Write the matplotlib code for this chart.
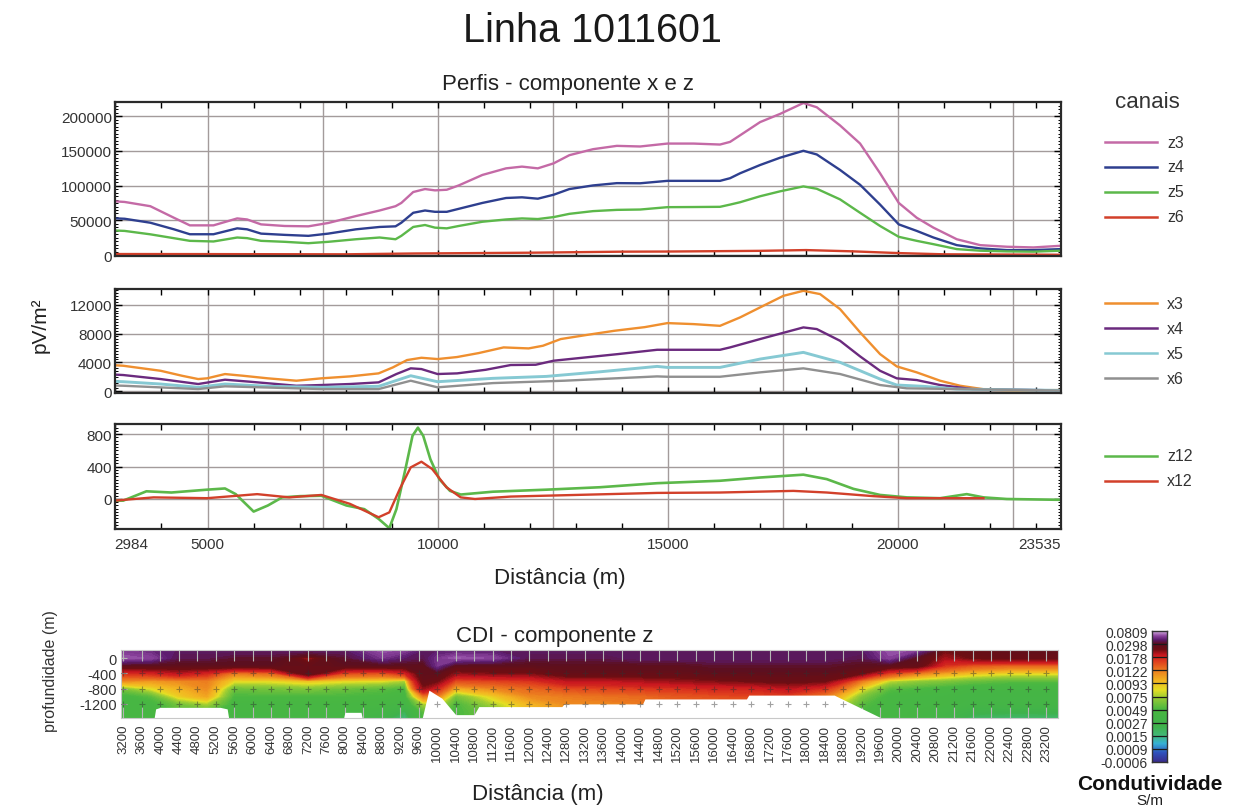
import numpy as np
import matplotlib
matplotlib.use('Agg')
import matplotlib.pyplot as plt
from matplotlib.colors import LinearSegmentedColormap
from matplotlib.lines import Line2D
from matplotlib.ticker import MultipleLocator, FixedLocator

plt.rcParams['font.family'] = ['Liberation Sans', 'DejaVu Sans']

# ---------------- perfis - componente z (pV/m2) ----------------
x_z = [2984, 3200, 3757, 4272, 4616, 5130, 5645, 5860, 6164, 6677, 7192, 7622, 8225, 8739,
       9085, 9211, 9469, 9725, 9942, 10198, 10457, 10972, 11485, 11832, 12176, 12519, 12862,
       13375, 13892, 14399, 14992, 15557, 16134, 16352, 16570, 17004, 17438, 17945, 18236,
       18742, 19177, 19611, 20017, 20408, 20770, 21278, 21786, 22365, 22944, 23535]
z3 = [77500, 76600, 70500, 53800, 42900, 42900, 52900, 51400, 44300, 42000, 41500, 46300,
      56300, 64300, 70500, 75200, 90900, 95200, 93300, 94200, 100400, 115500, 125000, 127500,
      125000, 132200, 144000, 152600, 157400, 156500, 160700, 160700, 159300, 163100, 172600,
      191600, 203400, 219100, 213000, 186800, 160700, 117900, 75200, 53800, 39600, 22900,
      14400, 12100, 11100, 13500]
z4 = [53000, 52400, 46700, 37200, 30100, 30100, 38600, 37200, 31000, 29200, 27800, 31000,
      37200, 40600, 41500, 46700, 61000, 64300, 62400, 62400, 66700, 75200, 82300, 83300,
      81300, 87000, 95200, 100400, 103700, 103500, 107000, 107000, 107000, 110800, 117900,
      129800, 140300, 150300, 145000, 122700, 101300, 72800, 44300, 34900, 25400, 14400,
      9700, 7300, 7300, 8700]
z5 = [35500, 34900, 30000, 24400, 20600, 19700, 25400, 24500, 20600, 19200, 17200, 19200,
      22900, 25400, 22900, 27800, 40600, 43400, 39600, 38600, 42000, 48100, 51400, 52900,
      52000, 54800, 59500, 63400, 65200, 65700, 69100, 69300, 69600, 72800, 76200, 84800,
      91900, 99000, 95600, 80300, 61000, 42000, 26400, 20600, 15800, 8700, 6400, 5400,
      5000, 6400]
x_z6 = [2984, 5000, 8000, 9500, 10000, 12000, 14000, 15000, 17000, 18000, 19000, 20000, 21000, 23535]
z6 = [1600, 1500, 1200, 2400, 2600, 3500, 5000, 5200, 6200, 7300, 5500, 3000, 1200, 600]

# ---------------- perfis - componente x (pV/m2) ----------------
x_x3 = [2984, 3169, 3983, 4445, 4798, 4990, 5380, 5769, 6312, 6931, 7474, 8095, 8717, 9027,
        9334, 9647, 9997, 10420, 10890, 11433, 11976, 12287, 12673, 13216, 13837, 14500,
        14992, 15557, 16134, 16570, 17004, 17511, 17945, 18308, 18742, 19177, 19611, 19973,
        20408, 20915, 21350, 21930, 22600, 23535]
x3 = [3600, 3530, 2830, 2140, 1680, 1780, 2375, 2140, 1780, 1450, 1780, 2050, 2470, 3300,
      4320, 4640, 4460, 4740, 5290, 6080, 5940, 6310, 7240, 7790, 8390, 8900, 9460, 9320,
      9080, 10250, 11640, 13250, 13950, 13490, 11400, 8170, 5150, 3440, 2610, 1450, 750,
      200, 100, 150]
x_x4 = [2984, 3169, 3983, 4798, 5380, 5923, 6931, 7474, 8095, 8717, 9104, 9415, 9647, 9997,
        10423, 11044, 11587, 12130, 12519, 13216, 13916, 14768, 14992, 16134, 16352, 17004,
        17945, 18236, 18742, 19177, 19611, 19973, 20408, 20915, 21610, 23535]
x4 = [2300, 2240, 1680, 990, 1590, 1310, 750, 850, 990, 1220, 2380, 3170, 3070, 2380, 2470,
      2970, 3630, 3670, 4230, 4690, 5150, 5750, 5750, 5750, 6080, 7240, 8860, 8630, 7000,
      4830, 2830, 1780, 1540, 850, 290, 100]
x_x5 = [2984, 3169, 3983, 4798, 5380, 6312, 7474, 8717, 9415, 9997, 11200, 12363, 13527,
        14768, 14992, 16134, 17004, 17945, 18742, 19611, 19973, 20550, 21278, 23535]
x5 = [1350, 1310, 990, 530, 990, 670, 530, 670, 2140, 1310, 1780, 2050, 2690, 3440, 3300,
      3300, 4460, 5390, 4000, 1680, 850, 670, 290, 100]
x_x6 = [2984, 3169, 4798, 5380, 7474, 8717, 9415, 9997, 11200, 12752, 14768, 14992, 16134,
        17004, 17945, 18742, 19611, 20190, 23535]
x6 = [780, 750, 290, 670, 290, 290, 1450, 530, 1120, 1450, 2050, 2000, 2000, 2610, 3170,
      2380, 850, 390, 80]

# ---------------- canais 12 ----------------
x_z12 = [2984, 3169, 3673, 4216, 4991, 5380, 5613, 6002, 6312, 6621, 7010, 7474, 8018, 8406,
         8717, 8950, 9104, 9300, 9454, 9571, 9686, 9842, 10036, 10268, 10501, 11200, 12363,
         13527, 14768, 16134, 17004, 17945, 18453, 19033, 19611, 20190, 20915, 21494, 21857,
         22365, 23535]
z12 = [-20, -20, 95, 80, 115, 130, 60, -155, -80, 20, 35, 40, -80, -125, -245, -360, -125,
       370, 780, 880, 780, 490, 245, 100, 55, 90, 115, 145, 195, 225, 265, 300, 245, 125, 50,
       20, 10, 60, 20, 0, -10]
x_x12 = [2984, 3829, 4991, 6079, 6777, 7474, 8095, 8717, 8950, 9182, 9415, 9647, 9880, 10190,
         10501, 10811, 11587, 14768, 16134, 17728, 18453, 19466, 20190, 21857]
x12 = [-20, 20, 10, 60, 20, 50, -60, -225, -165, 130, 390, 460, 370, 145, 20, 0, 30, 75, 80,
       100, 80, 35, 10, 10]

x_tick_vals = [2984, 5000, 10000, 15000, 20000, 23535]

# ---------------- CDI - componente z (S/m) ----------------
cdi_x = [3150, 3800, 4400, 5000, 5600, 6400, 7200, 8000, 8800, 9300, 9700, 10000, 10400,
         11200, 12000, 12800, 13600, 14400, 15200, 16000, 16800, 17600, 18400, 19200, 19800,
         20400, 21000, 21600, 22400, 23450]
cdi_depth = [220, 0, -200, -400, -600, -800, -1000, -1200, -1400, -1580]
cdi_cond = [
    [0.0554, 0.0656, 0.0286, 0.0167, 0.0116, 0.0062, 0.0044, 0.0044, 0.0042, 0.0042],
    [0.0502, 0.0605, 0.0286, 0.0178, 0.0110, 0.0084, 0.0054, 0.0044, 0.0044, 0.0044],
    [0.0451, 0.0400, 0.0286, 0.0202, 0.0116, 0.0099, 0.0089, 0.0062, 0.0054, 0.0054],
    [0.0451, 0.0400, 0.0286, 0.0178, 0.0122, 0.0116, 0.0105, 0.0075, 0.0054, 0.0054],
    [0.0451, 0.0349, 0.0286, 0.0122, 0.0086, 0.0059, 0.0049, 0.0044, 0.0042, 0.0042],
    [0.0451, 0.0349, 0.0286, 0.0133, 0.0086, 0.0062, 0.0049, 0.0044, 0.0042, 0.0042],
    [0.0451, 0.0214, 0.0274, 0.0286, 0.0093, 0.0065, 0.0049, 0.0044, 0.0042, 0.0042],
    [0.0451, 0.0349, 0.0286, 0.0150, 0.0086, 0.0059, 0.0049, 0.0044, 0.0042, 0.0042],
    [0.0656, 0.0554, 0.0286, 0.0144, 0.0084, 0.0054, 0.0047, 0.0042, 0.0036, 0.0027],
    [0.0605, 0.0451, 0.0286, 0.0178, 0.0075, 0.0049, 0.0044, 0.0036, 0.0021, 0.0014],
    [0.0451, 0.0400, 0.0286, 0.0286, 0.0274, 0.0226, 0.0122, 0.0075, 0.0054, 0.0049],
    [0.0451, 0.0554, 0.0554, 0.0286, 0.0250, 0.0178, 0.0122, 0.0084, 0.0062, 0.0054],
    [0.0451, 0.0656, 0.0286, 0.0226, 0.0150, 0.0099, 0.0062, 0.0049, 0.0049, 0.0049],
    [0.0451, 0.0605, 0.0286, 0.0238, 0.0156, 0.0116, 0.0089, 0.0075, 0.0062, 0.0062],
    [0.0451, 0.0400, 0.0286, 0.0238, 0.0167, 0.0133, 0.0116, 0.0099, 0.0093, 0.0093],
    [0.0451, 0.0400, 0.0298, 0.0274, 0.0202, 0.0150, 0.0122, 0.0116, 0.0108, 0.0108],
    [0.0451, 0.0400, 0.0298, 0.0274, 0.0202, 0.0156, 0.0128, 0.0116, 0.0110, 0.0110],
    [0.0451, 0.0451, 0.0298, 0.0274, 0.0214, 0.0161, 0.0133, 0.0122, 0.0122, 0.0122],
    [0.0451, 0.0451, 0.0298, 0.0274, 0.0226, 0.0167, 0.0144, 0.0133, 0.0133, 0.0133],
    [0.0451, 0.0451, 0.0349, 0.0286, 0.0238, 0.0178, 0.0150, 0.0133, 0.0133, 0.0133],
    [0.0451, 0.0451, 0.0349, 0.0286, 0.0250, 0.0178, 0.0156, 0.0133, 0.0133, 0.0133],
    [0.0451, 0.0451, 0.0349, 0.0286, 0.0262, 0.0202, 0.0156, 0.0133, 0.0133, 0.0133],
    [0.0451, 0.0451, 0.0349, 0.0286, 0.0250, 0.0167, 0.0122, 0.0099, 0.0084, 0.0075],
    [0.0451, 0.0400, 0.0298, 0.0250, 0.0122, 0.0086, 0.0065, 0.0054, 0.0049, 0.0049],
    [0.0656, 0.0605, 0.0286, 0.0156, 0.0079, 0.0054, 0.0044, 0.0042, 0.0042, 0.0042],
    [0.0605, 0.0298, 0.0274, 0.0122, 0.0070, 0.0049, 0.0042, 0.0042, 0.0040, 0.0040],
    [0.0250, 0.0214, 0.0167, 0.0105, 0.0065, 0.0044, 0.0040, 0.0040, 0.0036, 0.0031],
    [0.0274, 0.0250, 0.0144, 0.0093, 0.0059, 0.0040, 0.0038, 0.0036, 0.0025, 0.0019],
    [0.0286, 0.0262, 0.0133, 0.0086, 0.0054, 0.0040, 0.0038, 0.0036, 0.0024, 0.0017],
    [0.0286, 0.0262, 0.0133, 0.0086, 0.0054, 0.0040, 0.0038, 0.0036, 0.0024, 0.0018],
]
# limite de investigacao (abaixo: sem dado)
doi_x = [3150, 3850, 3900, 4000, 5300, 5450, 5500, 7950, 8000, 8350, 8400, 9650, 9820,
         10100, 10400, 10800, 10900, 12700, 12750, 14450, 14500, 16700, 16750, 18600, 19850, 23450]
doi_z = [-1700, -1700, -1330, -1290, -1290, -1330, -1700, -1700, -1420, -1420, -1700, -1700,
         -840, -1050, -1480, -1480, -1270, -1270, -1200, -1200, -1070, -1070, -970, -970,
         -1700, -1700]
cdi_xticks = list(range(3200, 23201, 400))
cdi_yticks = [0, -400, -800, -1200]
cb_bounds = [-0.0006, 0.0009, 0.0015, 0.0027, 0.0049, 0.0075, 0.0093, 0.0122, 0.0178, 0.0298, 0.0809]

channels = ['z3', 'z4', 'z5', 'z6', 'x3', 'x4', 'x5', 'x6', 'z12', 'x12']
ch_colors = {'z3': '#c46aa6', 'z4': '#2e3f8f', 'z5': '#5cb84a', 'z6': '#d2402a',
             'x3': '#ef8f2f', 'x4': '#6b2a7e', 'x5': '#86c9d3', 'x6': '#909090',
             'z12': '#5cb84a', 'x12': '#d2402a'}

W, H = 1241, 812
fig = plt.figure(figsize=(W / 100, H / 100), dpi=100)


def box(l, t, r, b):
    return [l / W, 1 - b / H, (r - l) / W, (b - t) / H]


grid_c = '#a39b9b'
txt_c = '#333333'


def style_profile(ax, ylim, yticks, yminor):
    ax.set_xlim(2984, 23535)
    ax.set_ylim(*ylim)
    ax.set_yticks(yticks)
    ax.yaxis.set_minor_locator(MultipleLocator(yminor))
    ax.xaxis.set_minor_locator(FixedLocator(range(3000, 24000, 1000)))
    ax.set_xticks([])
    ax.tick_params(axis='y', which='both', direction='in', left=True, right=True,
                   labelsize=11, pad=2, labelcolor=txt_c)
    ax.tick_params(axis='y', which='major', length=5, width=1)
    ax.tick_params(axis='y', which='minor', length=2.5, width=0.7)
    ax.tick_params(axis='x', which='minor', direction='in', top=True, bottom=True,
                   length=4, width=1)
    for y in yticks:
        ax.axhline(y, color=grid_c, lw=1, zorder=0)
    for xv in range(5000, 23535, 2500):
        ax.axvline(xv, color=grid_c, lw=1, zorder=0)
    for s in ax.spines.values():
        s.set_linewidth(1.6)
        s.set_color('#2a2a2a')


lw = 1.7
ax1 = fig.add_axes(box(114.7, 102.7, 1060.7, 256.7))
ax1.plot(x_z, z3, color=ch_colors['z3'], lw=lw)
ax1.plot(x_z, z4, color=ch_colors['z4'], lw=lw)
ax1.plot(x_z, z5, color=ch_colors['z5'], lw=lw)
ax1.plot(x_z6, z6, color=ch_colors['z6'], lw=lw)
style_profile(ax1, (-800, 221000), [0, 50000, 100000, 150000, 200000], 5000)

ax2 = fig.add_axes(box(114.7, 290, 1060.7, 394.3))
ax2.plot(x_x3, x3, color=ch_colors['x3'], lw=lw)
ax2.plot(x_x4, x4, color=ch_colors['x4'], lw=lw)
ax2.plot(x_x5, x5, color=ch_colors['x5'], lw=lw + 0.4)
ax2.plot(x_x6, x6, color=ch_colors['x6'], lw=lw)
style_profile(ax2, (-300, 14200), [0, 4000, 8000, 12000], 400)

ax3 = fig.add_axes(box(114.7, 425, 1060.7, 530))
ax3.plot(x_z12, z12, color=ch_colors['z12'], lw=lw + 0.2)
ax3.plot(x_x12, x12, color=ch_colors['x12'], lw=lw)
style_profile(ax3, (-370, 925), [0, 400, 800], 40)
ax3.set_xticks(x_tick_vals, [str(v) for v in x_tick_vals])
ax3.tick_params(axis='x', which='major', length=0, labelsize=11, pad=6, labelcolor=txt_c)
lbls = ax3.get_xticklabels()
lbls[0].set_ha('left')
lbls[-1].set_ha('right')

# legenda manual
leg_y = [143.3, 167.7, 192.7, 217.7, 304.3, 329.3, 354.3, 379.3, 456.7, 481.7]
for name, yy in zip(channels, leg_y):
    fig.add_artist(Line2D([1105 / W, 1157 / W], [1 - yy / H, 1 - yy / H],
                          color=ch_colors[name], lw=1.8, transform=fig.transFigure))
    fig.text(1167 / W, 1 - yy / H, name, fontsize=11.5, color=txt_c, va='center', ha='left')
fig.text(1147 / W, 1 - 103 / H, 'canais', fontsize=16, color=txt_c, ha='center', va='center')

fig.text(592 / W, 1 - 42 / H, 'Linha 1011601', fontsize=28.5, color='#1a1a1a',
         ha='center', va='baseline')
fig.text(568 / W, 1 - 90 / H, 'Perfis - componente x e z', fontsize=16, color='#222222',
         ha='center', va='baseline')
fig.text(40 / W, 1 - 325 / H, 'pV/m²', fontsize=15, color='#222222', rotation=90,
         ha='center', va='center')
fig.text(560 / W, 1 - 579 / H, 'Distância (m)', fontsize=16, color='#222222',
         ha='center', va='center')

# ---------------- CDI ----------------
cb_pos = np.linspace(0, 1, len(cb_bounds))
cdi_cmap = LinearSegmentedColormap.from_list('cdi', [
    (0.00, '#3a2d8e'), (0.07, '#2f52bd'), (0.14, '#37b2d6'), (0.20, '#42b87a'),
    (0.27, '#3fb24c'), (0.40, '#49b741'), (0.48, '#8fc936'), (0.55, '#e4df24'),
    (0.62, '#f3b621'), (0.70, '#ec7d1f'), (0.77, '#df3d1d'), (0.82, '#c8161f'),
    (0.86, '#6e0e12'), (0.905, '#5c0f1e'), (0.935, '#5a1b6c'), (0.965, '#8c449e'),
    (1.00, '#d3aee0')])

axc = fig.add_axes(box(121, 650.7, 1058, 719.3))
p_lev = np.linspace(0, 1, 161)
levels = np.interp(p_lev, cb_pos, cb_bounds)
band_cols = [cdi_cmap(0.5 * (a + b)) for a, b in zip(p_lev[:-1], p_lev[1:])]
C = np.array(cdi_cond).T
axc.contourf(cdi_x, cdi_depth, C, levels=levels, colors=band_cols, zorder=1)
axc.fill_between(doi_x, doi_z, -1800, color='white', zorder=2, lw=0)
gx, gy = np.meshgrid(cdi_xticks, [-400, -800, -1200])
axc.plot(gx.ravel(), gy.ravel(), '+', color='#303030', alpha=0.45, ms=5, mew=0.8, zorder=3)
axc.set_xlim(3150, 23450)
axc.set_ylim(-1576, 217)
axc.set_xticks(cdi_xticks, [str(v) for v in cdi_xticks], rotation=90)
axc.set_yticks(cdi_yticks, [str(v) for v in cdi_yticks])
axc.tick_params(axis='x', direction='in', top=True, bottom=True, length=8, width=0.8,
                color='#b5b5b5', labelsize=9.5, pad=4, labelcolor=txt_c)
axc.tick_params(axis='y', direction='in', left=True, right=False, length=4, width=0.8,
                color='#b5b5b5', labelsize=10.5, pad=3, labelcolor=txt_c)
for s in axc.spines.values():
    s.set_linewidth(0.8)
    s.set_color('#c8c8c8')

fig.text(555 / W, 1 - 642 / H, 'CDI - componente z', fontsize=16, color='#222222',
         ha='center', va='baseline')
fig.text(50 / W, 1 - 671 / H, 'profundidade (m)', fontsize=11.5, color='#333333',
         rotation=90, ha='center', va='center')
fig.text(538 / W, 1 - 800 / H, 'Distância (m)', fontsize=16, color='#222222',
         ha='center', va='baseline')

# barra de cores
cax = fig.add_axes(box(1152, 632, 1167, 763))
cax.imshow(np.linspace(0, 1, 256)[:, None], cmap=cdi_cmap, aspect='auto', origin='lower',
           extent=[0, 1, 0, 1])
cax.set_xticks([])
cax.set_yticks(cb_pos, [f'{b:.4f}' for b in cb_bounds])
cax.yaxis.tick_left()
cax.tick_params(axis='y', length=0, labelsize=10, pad=3, labelcolor='#333333')
for p in cb_pos[1:-1]:
    cax.axhline(p, color='#1a1a1a', lw=0.9)
for s in cax.spines.values():
    s.set_linewidth(1.0)
    s.set_color('#333333')
fig.text(1150 / W, 1 - 790 / H, 'Condutividade', fontsize=15, fontweight='bold',
         color='#111111', ha='center', va='baseline')
fig.text(1150 / W, 1 - 805 / H, 'S/m', fontsize=11, color='#222222', ha='center',
         va='baseline')

fig.savefig('out.png', dpi=100, facecolor='white')
